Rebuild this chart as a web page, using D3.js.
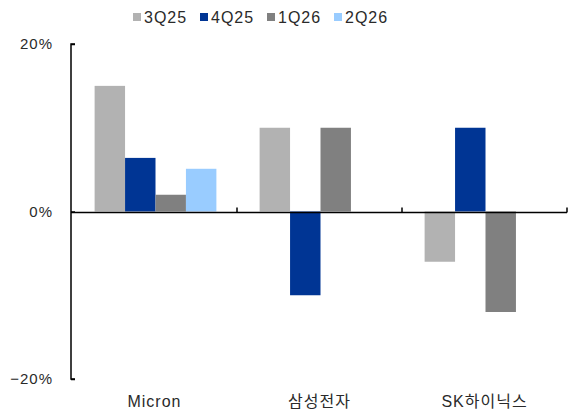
<!DOCTYPE html>
<html lang="ko">
<head>
    <meta charset="UTF-8">
    <title>Memory chart</title>
    <script src="https://d3js.org/d3.v7.min.js"></script>
    <style>
        body { margin: 0; background: #fff; }
        text { font-family: "Liberation Sans", Arial, "Noto Sans CJK KR", sans-serif; fill: #2a2a2a; }
    </style>
</head>
<body>
    <svg></svg>
</body>
<script>

    // data (%)
    const categories = ["Micron", "삼성전자", "SK하이닉스"];
    const seriesNames = ["3Q25", "4Q25", "1Q26", "2Q26"];
    const seriesColors = ["#b2b2b2", "#003594", "#808080", "#99ccff"];
    const v3Q25 = [15, 10, -6];
    const v4Q25 = [6.4, -10, 10];
    const v1Q26 = [2, 10, -12];
    const v2Q26 = [5.1, null, null];
    const yTicks = [-20, 0, 20];

    const width = 568;
    const height = 415;
    const svg = d3.select("svg")
        .attr("width", width)
        .attr("height", height);

    const seriesValues = [v3Q25, v4Q25, v1Q26, v2Q26];

    const xScale = d3.scaleBand()
        .domain(categories)
        .range([72, 567]);

    const xInner = d3.scaleBand()
        .domain(seriesNames)
        .range([0, xScale.bandwidth()])
        .paddingOuter(0.71);

    const yScale = d3.scaleLinear()
        .domain([-20, 20])
        .range([379, 44]);

    // bars
    seriesNames.forEach((name, si) => {
        const rows = categories.map((c, ci) => ({ cat: c, value: seriesValues[si][ci] }))
            .filter(d => d.value !== null);
        svg.append("g")
            .selectAll("rect")
            .data(rows)
            .join("rect")
            .attr("x", d => xScale(d.cat) + xInner(name) + 1)
            .attr("width", xInner.bandwidth())
            .attr("y", d => yScale(Math.max(0, d.value)))
            .attr("height", d => Math.abs(yScale(d.value) - yScale(0)))
            .style("fill", seriesColors[si]);
    });

    // y axis, ticks pointing inward
    const yAxis = d3.axisRight(yScale).tickValues(yTicks).tickSize(4).tickFormat("");
    svg.append("g")
        .attr("transform", `translate(${xScale.range()[0] - 1}, 0)`)
        .call(yAxis)
        .call(g => g.select(".domain").attr("d", `M4,${yScale(-20)}H0V${yScale(20)}H4`).style("stroke", "#000").style("stroke-width", 1.5))
        .call(g => g.selectAll(".tick line").style("stroke", "#000").style("stroke-width", 1.5));

    svg.append("g")
        .selectAll("text")
        .data(yTicks)
        .join("text")
        .attr("x", 53)
        .attr("y", d => yScale(d))
        .attr("dy", "0.35em")
        .attr("text-anchor", "end")
        .style("font-size", "15px")
        .style("letter-spacing", "1px")
        .text(d => (d < 0 ? "\u2212" : "") + Math.abs(d) + "%");

    // zero line with category separators
    const x0 = xScale.range()[0];
    const x1 = xScale.range()[1];
    const z = Math.round(yScale(0)) + 0.5;
    svg.append("line")
        .attr("x1", x0 - 1).attr("x2", x1)
        .attr("y1", z).attr("y2", z)
        .style("stroke", "#000").style("stroke-width", 1.5);

    svg.append("g")
        .selectAll("line")
        .data(categories.slice(1).map(c => xScale(c)).concat([x1]))
        .join("line")
        .attr("x1", d => d).attr("x2", d => d)
        .attr("y1", z).attr("y2", z - 5)
        .style("stroke", "#000").style("stroke-width", 1.5);

    // category labels
    svg.append("g")
        .selectAll("text")
        .data(categories)
        .join("text")
        .attr("x", d => xScale(d) + xScale.bandwidth() / 2)
        .attr("y", 407)
        .attr("text-anchor", "middle")
        .style("font-size", "16px")
        .style("letter-spacing", "1px")
        .text(d => d);

    // legend
    const legend = svg.append("g")
        .selectAll("g")
        .data(seriesNames)
        .join("g")
        .attr("transform", (d, i) => `translate(${133 + i * 67}, 0)`);

    legend.append("rect")
        .attr("x", 0).attr("y", 13)
        .attr("width", 8).attr("height", 8)
        .style("fill", (d, i) => seriesColors[i]);

    legend.append("text")
        .attr("x", 11)
        .attr("y", 17)
        .attr("dy", "0.35em")
        .style("font-size", "16px")
        .style("letter-spacing", "1px")
        .text(d => d);

</script>
</html>
